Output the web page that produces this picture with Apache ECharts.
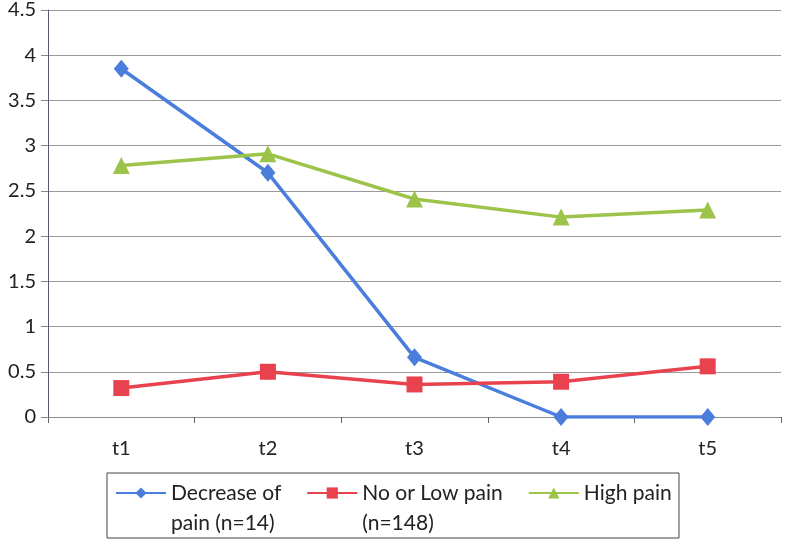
<!doctype html>
<html>
<head>
<meta charset="utf-8">
<title>Pain groups</title>
<script src="https://cdn.jsdelivr.net/npm/echarts@6/dist/echarts.min.js"></script>
<style type="text/css">
	html, body { margin: 0; padding: 0; background: #fff; }
	#chart { width: 788px; height: 542px; }
</style>
</head>
<body>
<div id="chart"></div>
<script type="text/javascript">
	var times = ['t1', 't2', 't3', 't4', 't5'];
	var decreaseData = [3.85, 2.70, 0.66, 0, 0];
	var lowData = [0.32, 0.50, 0.36, 0.39, 0.56];
	var highData = [2.78, 2.91, 2.41, 2.21, 2.29];
	var yTicks = ['0', '0.5', '1', '1.5', '2', '2.5', '3', '3.5', '4', '4.5'];
	var legendNames = ['Decrease of\npain (n=14)', 'No or Low pain\n(n=148)', 'High pain'];

	var font = 'Lato';

	var myChart = echarts.init(document.getElementById('chart'));
	var option = {
		animation: false,
		grid: {
			top: 10,
			left: 48,
			right: 7,
			bottom: 125
		},
		color: ['#4a7ddc', '#e8424f', '#9cc34a'],
		xAxis: {
			type: 'category',
			data: times,
			boundaryGap: true,
			axisLine: { lineStyle: { color: '#8c8c8c', width: 1 } },
			axisTick: { show: true, length: 6, lineStyle: { color: '#666' } },
			axisLabel: { margin: 22, fontSize: 20, color: '#222', fontFamily: font }
		},
		yAxis: {
			type: 'value',
			min: 0,
			max: 4.5,
			interval: 0.5,
			axisLine: { show: true, lineStyle: { color: '#55597a', width: 1 } },
			axisTick: { show: true, length: 7, lineStyle: { color: '#888' } },
			axisLabel: {
				margin: 12,
				fontSize: 20,
				color: '#222',
				fontFamily: font,
				formatter: function (v) {
					return yTicks[Math.round(v * 2)];
				}
			},
			splitLine: { lineStyle: { color: '#9a9a9a', width: 1.2 } }
		},
		legend: {
			left: 115,
			top: 448,
			padding: 0,
			itemGap: 25,
			itemWidth: 50,
			itemHeight: 14,
			textStyle: { fontSize: 21, color: '#222', fontFamily: font, lineHeight: 30 },
			// blank first line keeps the icon level with the first text line
			formatter: function (name) {
				return name.indexOf('\n') >= 0 ? ' \n' + name : name;
			},
			data: legendNames
		},
		graphic: [{
			type: 'rect',
			shape: { x: 107, y: 473, width: 572, height: 65 },
			style: { fill: 'none', stroke: '#444', lineWidth: 1 }
		}],
		series: [
			{
				name: legendNames[0],
				type: 'line',
				data: decreaseData,
				symbol: 'diamond',
				symbolSize: [15, 18],
				lineStyle: { width: 3.5 }
			},
			{
				name: legendNames[1],
				type: 'line',
				data: lowData,
				symbol: 'rect',
				symbolSize: 16,
				lineStyle: { width: 3.5 }
			},
			{
				name: legendNames[2],
				type: 'line',
				data: highData,
				symbol: 'triangle',
				symbolSize: 17,
				lineStyle: { width: 3.5 }
			}
		]
	};
	myChart.setOption(option);
</script>
</body>
</html>
